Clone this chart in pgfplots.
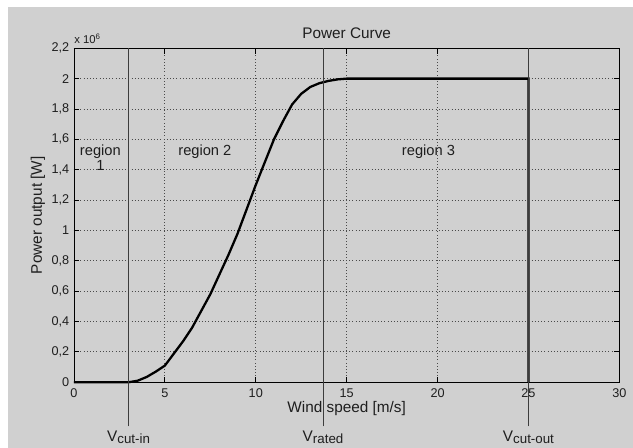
\documentclass[border=0pt]{standalone}
\usepackage{fontspec}
\setmainfont{Liberation Sans}
\usepackage{pgfplots}
\pgfplotsset{compat=1.18}
\definecolor{bg}{HTML}{D0D0D0}
\definecolor{gridc}{HTML}{4A4A4A}
\definecolor{vline}{HTML}{3C3C3C}
\definecolor{txt}{HTML}{1E1E1E}
\newcommand{\Vsub}[1]{V\raisebox{-1.6pt}{\fontsize{10}{12}\selectfont #1}}
\begin{document}
\begin{tikzpicture}[x=1pt,y=1pt]
\path[use as bounding box] (0,0) rectangle (474.75,336);
\fill[white] (0,0) rectangle (474.75,336);
\fill[bg] (6,0) rectangle (474.75,330.75);
\begin{axis}[
  at={(55.5pt,49.3pt)}, anchor=south west,
  scale only axis, width=409pt, height=250.5pt,
  xmin=0, xmax=30, ymin=0, ymax=2.2,
  xtick={0,5,10,15,20,25,30},
  ytick={0,0.2,0.4,0.6,0.8,1,1.2,1.4,1.6,1.8,2,2.2},
  scaled y ticks=false,
  grid=major,
  grid style={dotted, gridc, line width=0.6pt},
  axis line style={black, line width=0.7pt},
  tick style={black, line width=0.6pt},
  major tick length=4pt,
  tick align=inside,
  tick label style={font=\fontsize{9.5}{11}\selectfont, text=txt},
  xticklabel style={yshift=-1.5pt},
  /pgf/number format/assume math mode=true,
  /pgf/number format/use comma,
  /pgf/number format/fixed,
  /pgf/number format/precision=1,
  clip=false,
  axis background/.style={fill=bg},
]
\addplot[black, line width=1.7pt] coordinates {
(0,0) (3,0) (3.5,0.01) (4,0.035) (4.5,0.07) (5,0.11) (5.5,0.19) (6,0.27)
(6.5,0.36) (7,0.47) (7.5,0.58) (8,0.71) (8.5,0.84) (9,0.98) (9.5,1.14)
(10,1.30) (10.5,1.45) (11,1.60) (11.5,1.72) (12,1.83) (12.5,1.90)
(13,1.945) (13.5,1.97) (14,1.985) (14.5,1.995) (15,2.0) (25,2.0) (25,0)
};
\addplot[vline, line width=0.7pt] coordinates {(3,-0.29) (3,2.2)};
\addplot[vline, line width=0.7pt] coordinates {(13.7,-0.29) (13.7,2.2)};
\addplot[vline, line width=0.7pt] coordinates {(25,-0.29) (25,2.2)};
\node[text=txt, font=\fontsize{11.5}{13}\selectfont] at (rel axis cs:0.5,1) [yshift=11.5pt] {Power Curve};
\node[text=txt, font=\fontsize{8.5}{9}\selectfont, anchor=south west, inner sep=0pt] at (rel axis cs:0,1) [yshift=3.2pt, xshift=0pt] {x 10\textsuperscript{6}};
\node[text=txt, font=\fontsize{11.5}{13}\selectfont] at (rel axis cs:0.5,0) [yshift=-20pt] {Wind speed [m/s]};
\node[xshift=-27pt, rotate=90, text=txt, font=\fontsize{11.5}{13}\selectfont] at (rel axis cs:0,0.5) {Power output [W]};
\node[text=txt, font=\fontsize{11}{11}\selectfont, align=center] at (axis cs:1.45,1.48) {region\\1};
\node[text=txt, font=\fontsize{11}{13}\selectfont] at (axis cs:7.2,1.52) {region 2};
\node[text=txt, font=\fontsize{11}{13}\selectfont] at (axis cs:19.5,1.52) {region 3};
\node[text=txt, font=\fontsize{11.5}{13}\selectfont] at (axis cs:3,-0.36) {\Vsub{cut-in}};
\node[text=txt, font=\fontsize{11.5}{13}\selectfont] at (axis cs:13.7,-0.36) {\Vsub{rated}};
\node[text=txt, font=\fontsize{11.5}{13}\selectfont] at (axis cs:25,-0.36) {\Vsub{cut-out}};
\end{axis}
\end{tikzpicture}
\end{document}
